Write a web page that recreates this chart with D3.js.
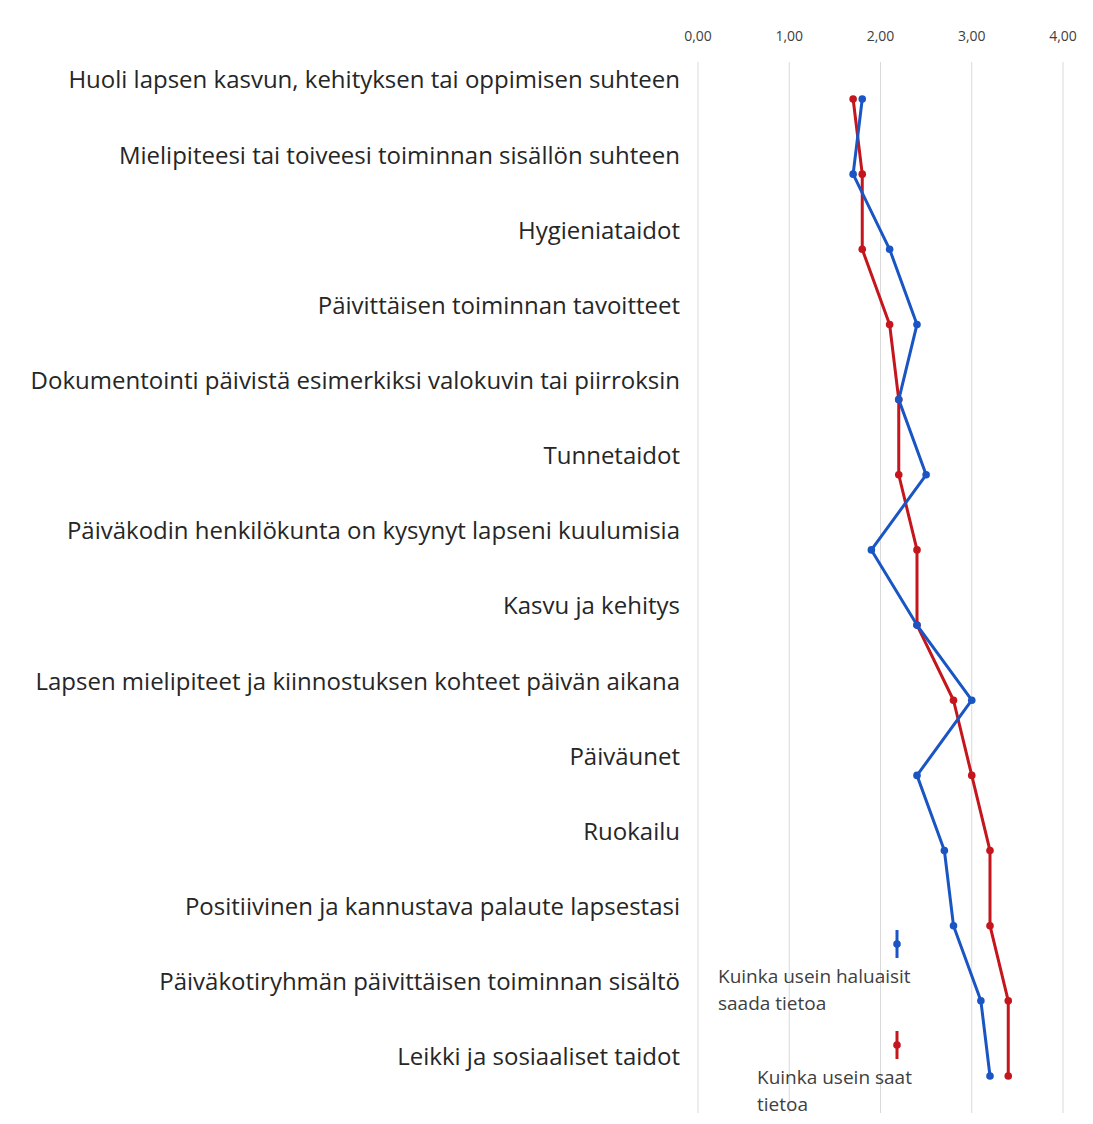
<!DOCTYPE html>
<meta charset="utf-8">
<script src="https://d3js.org/d3.v7.min.js"></script>
<style>
  body { margin: 0; background: #fff; }
  text { font-family: "Open Sans", sans-serif; fill: #262626; }
</style>
<body>
<svg id="chart" width="1093" height="1124"></svg>
<script>

// categories (top to bottom)
const categories = [
  "Huoli lapsen kasvun, kehityksen tai oppimisen suhteen",
  "Mielipiteesi tai toiveesi toiminnan sisällön suhteen",
  "Hygieniataidot",
  "Päivittäisen toiminnan tavoitteet",
  "Dokumentointi päivistä esimerkiksi valokuvin tai piirroksin",
  "Tunnetaidot",
  "Päiväkodin henkilökunta on kysynyt lapseni kuulumisia",
  "Kasvu ja kehitys",
  "Lapsen mielipiteet ja kiinnostuksen kohteet päivän aikana",
  "Päiväunet",
  "Ruokailu",
  "Positiivinen ja kannustava palaute lapsestasi",
  "Päiväkotiryhmän päivittäisen toiminnan sisältö",
  "Leikki ja sosiaaliset taidot"
];

// "Kuinka usein haluaisit saada tietoa"
const haluaisit = [1.8, 1.7, 2.1, 2.4, 2.2, 2.5, 1.9, 2.4, 3.0, 2.4, 2.7, 2.8, 3.1, 3.2];
// "Kuinka usein saat tietoa"
const saat = [1.7, 1.8, 1.8, 2.1, 2.2, 2.2, 2.4, 2.4, 2.8, 3.0, 3.2, 3.2, 3.4, 3.4];

const ticks = [0, 1, 2, 3, 4];

const svg = d3.select("#chart");

const x = d3.scaleLinear().domain([0, 4]).range([698, 1063]);
const y = d3.scalePoint().domain(categories).range([99, 1076]);

const fmt = d => d.toFixed(2).replace(".", ",");

// gridlines
svg.append("g")
  .selectAll("line")
  .data(ticks)
  .join("line")
    .attr("x1", d => x(d)).attr("x2", d => x(d))
    .attr("y1", 62).attr("y2", 1113)
    .style("stroke", "#d9d9d9")
    .style("stroke-width", 1);

// top axis labels
svg.append("g")
  .selectAll("text")
  .data(ticks)
  .join("text")
    .attr("x", d => x(d))
    .attr("y", 41)
    .attr("text-anchor", "middle")
    .style("font-size", "14px")
    .style("fill", "#404040")
    .text(fmt);

// category labels
svg.append("g")
  .selectAll("text")
  .data(categories)
  .join("text")
    .attr("x", 680)
    .attr("y", d => y(d) - 19)
    .attr("dy", "0.35em")
    .attr("text-anchor", "end")
    .style("font-size", "24px")
    .text(d => d);

const series = [
  { name: "Kuinka usein haluaisit saada tietoa", values: haluaisit, color: "#1a55c4" },
  { name: "Kuinka usein saat tietoa", values: saat, color: "#c4161c" }
];

const line = d3.line()
  .x(d => x(d.v))
  .y(d => y(d.c));

// red drawn last so it sits on top
series.slice().reverse().forEach(s => {
  const pts = s.values.map((v, i) => ({ v: v, c: categories[i] }));
  svg.append("path")
    .datum(pts)
    .attr("d", line)
    .style("fill", "none")
    .style("stroke", s.color)
    .style("stroke-width", 3)
    .style("stroke-linejoin", "round");
  svg.append("g")
    .selectAll("circle")
    .data(pts)
    .join("circle")
      .attr("cx", d => x(d.v))
      .attr("cy", d => y(d.c))
      .attr("r", 3.8)
      .style("fill", s.color);
});

// legend
const legend = [
  { s: series[0], my: 944, lines: ["Kuinka usein haluaisit", "saada tietoa"], tx: 718 },
  { s: series[1], my: 1045, lines: ["Kuinka usein saat", "tietoa"], tx: 757 }
];
legend.forEach(l => {
  const g = svg.append("g");
  g.append("line")
    .attr("x1", 897).attr("x2", 897)
    .attr("y1", l.my - 14).attr("y2", l.my + 14)
    .style("stroke", l.s.color)
    .style("stroke-width", 3);
  g.append("circle")
    .attr("cx", 897).attr("cy", l.my).attr("r", 3.8)
    .style("fill", l.s.color);
  l.lines.forEach((t, i) => {
    g.append("text")
      .attr("x", l.tx)
      .attr("y", l.my + 39 + i * 27)
      .style("font-size", "19px")
      .style("fill", "#404040")
      .text(t);
  });
});

</script>
</body>
